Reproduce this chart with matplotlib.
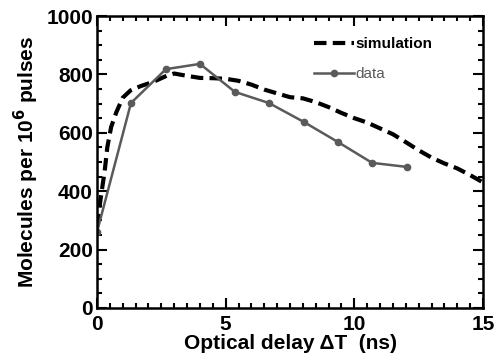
import matplotlib
matplotlib.use("Agg")
import matplotlib.pyplot as plt
from matplotlib.ticker import MultipleLocator

plt.rcParams['font.family'] = ['Liberation Sans', 'DejaVu Sans']

# simulation curve
sim_x = [0, 0.15, 0.3, 0.4, 0.55, 0.75, 1.0, 1.3, 1.7, 2.2, 2.7, 3.0, 3.5, 4.0, 4.5,
         5.0, 5.5, 6.0, 6.5, 7.0, 7.5, 8.0, 8.5, 9.0, 9.5, 10.0, 10.5, 11.0, 11.5,
         12.0, 12.5, 13.0, 13.5, 14.0, 14.5, 15.0]
sim_y = [280, 380, 470, 550, 620, 670, 720, 745, 760, 775, 795, 803, 795, 788, 787,
         785, 778, 765, 748, 735, 722, 718, 705, 688, 668, 650, 635, 615, 595,
         568, 540, 515, 495, 478, 455, 430]

# measured data
data_x = [0, 1.32, 2.68, 4.0, 5.36, 6.68, 8.04, 9.37, 10.69, 12.05]
data_y = [260, 702, 818, 836, 740, 702, 637, 568, 497, 483]

fig = plt.figure(figsize=(5.0, 3.64), dpi=100)
ax = fig.add_axes([0.194, 0.154, 0.772, 0.802])

ax.plot(sim_x, sim_y, color='black', lw=3.0, ls=(0, (3.0, 1.5)), label='simulation')
ax.plot(data_x, data_y, color='#5a5a5a', lw=1.8, marker='o', ms=4.5, label='data')

ax.set_xlim(0, 15)
ax.set_ylim(0, 1000)
ax.xaxis.set_major_locator(MultipleLocator(5))
ax.xaxis.set_minor_locator(MultipleLocator(0.5))
ax.yaxis.set_major_locator(MultipleLocator(200))
ax.yaxis.set_minor_locator(MultipleLocator(50))
ax.tick_params(which='both', direction='in', top=True, right=True, width=1.5)
ax.tick_params(which='major', length=7, labelsize=15)
ax.tick_params(axis='x', which='major', pad=5)
ax.tick_params(axis='y', which='major', pad=3)
ax.tick_params(which='minor', length=3.5)
for lab in ax.get_xticklabels() + ax.get_yticklabels():
    lab.set_fontweight('bold')
for s in ax.spines.values():
    s.set_linewidth(1.8)

ax.set_xlabel('Optical delay ΔT  (ns)', fontsize=15, fontweight='bold', labelpad=0)
ax.set_ylabel('Molecules per 10$^\\mathbf{6}$ pulses', fontsize=15, fontweight='bold', labelpad=4)

leg = ax.legend(loc='upper right', bbox_to_anchor=(0.905, 0.975), frameon=False,
                fontsize=11, handlelength=2.6, handletextpad=0.1, labelspacing=1.05)
t0, t1 = leg.get_texts()
t0.set_fontweight('bold')
t1.set_color('#5a5a5a')

fig.savefig('out.png', dpi=100)
